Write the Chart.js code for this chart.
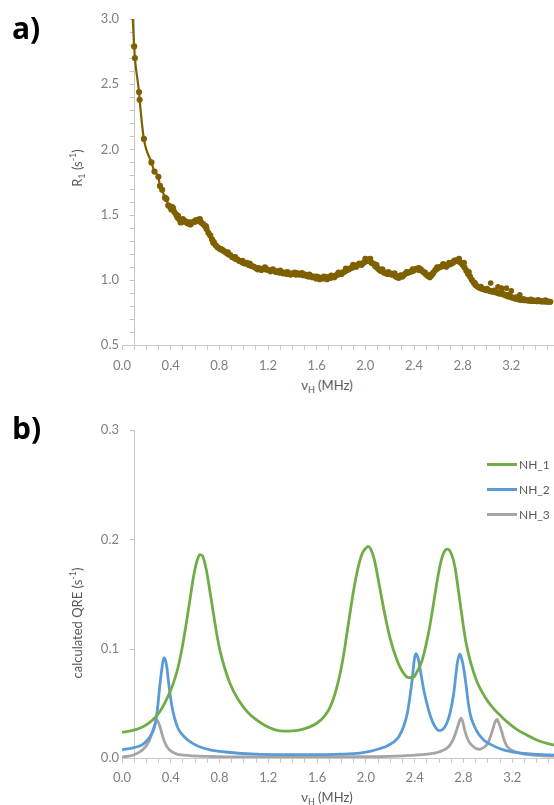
<!DOCTYPE html>
<html><head><meta charset="utf-8">
<script src="https://cdn.jsdelivr.net/npm/chart.js@4.4.1/dist/chart.umd.min.js"></script>
<style>
html,body{margin:0;padding:0;background:#fff;}
body{width:554px;height:805px;overflow:hidden;position:relative;font-family:Lato,'Noto Sans',sans-serif;}
canvas{position:absolute;left:0;}
.lbl{position:absolute;font-family:'Open Sans',sans-serif;font-weight:700;font-size:30px;color:#000;line-height:1;}
.ttl{position:absolute;white-space:nowrap;font-size:13px;color:#595959;line-height:1;transform:translate(-50%,-50%);}
.ttl.rot{transform:translate(-50%,-50%) rotate(-90deg);}
sub,sup{font-size:9px;line-height:0;}
.leg{position:absolute;left:487px;height:14px;display:flex;align-items:center;font-size:12px;color:#595959;transform:translateY(-50%);}
.leg span.ln{display:inline-block;width:30px;height:3px;margin-right:2px;}
</style>
</head><body>
<canvas id="ca" width="568" height="372" style="top:0"></canvas>
<canvas id="cb" width="568" height="405" style="top:400px"></canvas>
<div class="lbl" style="left:12px;top:13px">a)</div>
<div class="lbl" style="left:12px;top:413px">b)</div>
<div class="ttl rot" style="left:77px;top:168px">R<sub>1</sub> (s<sup>-1</sup>)</div>
<div class="ttl" style="left:327px;top:385px">ν<sub>H</sub> (MHz)</div>
<div class="ttl rot" style="left:77px;top:623px">calculated QRE (s<sup>-1</sup>)</div>
<div class="ttl" style="left:327px;top:797px">ν<sub>H</sub> (MHz)</div>
<div id="legend"></div>
<script>
// ---- chart a) measured R1 ----
const r1Freq = [0.080,0.100,0.106,0.140,0.145,0.180,0.242,0.267,0.299,0.312,0.330,0.353,0.365,0.380,0.395,0.405,0.420,0.430,0.445,0.455,0.470,0.482,0.495,0.510,0.520,0.535,0.550,0.563,0.575,0.590,0.605,0.620,0.635,0.650,0.665,0.680,0.695,0.710,0.725,0.740,0.755,0.770,0.785,0.800,0.815,0.830,0.846,0.860,0.875,0.890,0.905,0.920,0.935,0.950,0.965,0.980,0.995,1.010,1.025,1.040,1.055,1.070,1.085,1.100,1.115,1.130,1.145,1.160,1.175,1.190,1.205,1.220,1.235,1.250,1.265,1.280,1.295,1.310,1.325,1.340,1.355,1.370,1.385,1.400,1.415,1.430,1.445,1.460,1.475,1.490,1.505,1.520,1.535,1.550,1.565,1.580,1.595,1.610,1.625,1.640,1.655,1.670,1.685,1.700,1.715,1.730,1.745,1.760,1.775,1.790,1.805,1.820,1.835,1.850,1.865,1.880,1.895,1.910,1.925,1.940,1.955,1.970,1.985,2.000,2.010,2.020,2.035,2.050,2.065,2.080,2.095,2.110,2.125,2.140,2.155,2.170,2.185,2.200,2.215,2.230,2.245,2.260,2.275,2.290,2.305,2.320,2.335,2.350,2.365,2.380,2.395,2.410,2.425,2.440,2.455,2.470,2.485,2.500,2.515,2.530,2.545,2.560,2.575,2.590,2.605,2.620,2.635,2.650,2.665,2.680,2.695,2.710,2.725,2.740,2.755,2.770,2.785,2.800,2.815,2.830,2.845,2.860,2.875,2.890,2.905,2.920,2.935,2.950,2.965,2.980,2.995,3.010,3.025,3.040,3.055,3.070,3.085,3.100,3.115,3.130,3.145,3.160,3.175,3.190,3.205,3.220,3.235,3.250,3.265,3.280,3.295,3.310,3.325,3.340,3.355,3.370,3.385,3.400,3.415,3.430,3.445,3.460,3.475,3.490,3.505,3.520];
const r1Rate = [3.15,2.79,2.70,2.44,2.38,2.08,1.90,1.83,1.79,1.72,1.69,1.63,1.62,1.57,1.56,1.54,1.55,1.52,1.50,1.48,1.465,1.44,1.455,1.445,1.45,1.435,1.44,1.425,1.44,1.445,1.455,1.46,1.45,1.44,1.43,1.415,1.39,1.36,1.34,1.31,1.29,1.265,1.25,1.24,1.235,1.225,1.215,1.205,1.195,1.19,1.175,1.17,1.16,1.155,1.145,1.14,1.13,1.125,1.13,1.115,1.11,1.105,1.10,1.09,1.08,1.085,1.075,1.085,1.095,1.08,1.075,1.065,1.075,1.07,1.06,1.065,1.055,1.06,1.05,1.055,1.045,1.05,1.04,1.05,1.045,1.04,1.05,1.04,1.045,1.035,1.04,1.03,1.025,1.03,1.02,1.025,1.01,1.02,1.005,1.015,1.01,1.02,1.005,1.02,1.015,1.025,1.02,1.035,1.04,1.05,1.045,1.06,1.065,1.075,1.08,1.09,1.095,1.105,1.10,1.115,1.12,1.115,1.13,1.14,1.155,1.145,1.15,1.13,1.125,1.105,1.095,1.08,1.07,1.065,1.055,1.05,1.045,1.05,1.04,1.045,1.03,1.02,1.015,1.03,1.025,1.04,1.05,1.055,1.06,1.065,1.07,1.08,1.085,1.075,1.08,1.065,1.055,1.04,1.03,1.02,1.035,1.055,1.075,1.085,1.095,1.10,1.105,1.11,1.10,1.115,1.12,1.125,1.135,1.15,1.145,1.14,1.13,1.115,1.095,1.07,1.045,1.025,1.00,0.98,0.96,0.95,0.94,0.935,0.93,0.925,0.92,0.92,0.915,0.91,0.91,0.905,0.90,0.895,0.895,0.89,0.885,0.878,0.872,0.87,0.865,0.86,0.856,0.852,0.85,0.846,0.845,0.843,0.845,0.84,0.842,0.838,0.84,0.838,0.836,0.838,0.835,0.834,0.835,0.833,0.832,0.831];
// second, slightly offset pass of the measurement (thickens the band)
const r1Freq2 = [0.41,0.46,0.50,0.55,0.60,0.64,0.69,0.75,0.81,0.87,0.93,0.99,1.05,1.12,1.18,1.24,1.30,1.36,1.42,1.48,1.54,1.60,1.66,1.72,1.78,1.84,1.90,1.95,2.00,2.04,2.09,2.14,2.19,2.24,2.29,2.34,2.39,2.44,2.49,2.54,2.59,2.64,2.69,2.73,2.77,2.81,2.85,2.90,2.95,3.00,3.06,3.12,3.18,3.24,3.30,3.36,3.42,3.48];
const r1Rate2 = [1.56,1.49,1.465,1.43,1.445,1.465,1.41,1.285,1.235,1.21,1.175,1.145,1.125,1.09,1.08,1.08,1.07,1.06,1.055,1.052,1.04,1.025,1.025,1.032,1.055,1.085,1.115,1.125,1.16,1.16,1.115,1.08,1.06,1.05,1.035,1.06,1.08,1.09,1.055,1.04,1.095,1.12,1.13,1.145,1.16,1.13,1.06,0.975,0.945,0.93,0.918,0.902,0.885,0.865,0.852,0.848,0.845,0.842];
// scattered upper points near 3.0-3.3 MHz
const r1ExtraFreq = [3.03,3.09,3.12,3.16,3.20,3.27];
const r1ExtraRate = [0.975,0.946,0.936,0.936,0.915,0.885];

// ---- chart b) calculated QRE ----
const nh1Freq = [0.00,0.08,0.15,0.22,0.28,0.33,0.38,0.42,0.46,0.50,0.53,0.56,0.59,0.62,0.64,0.66,0.68,0.70,0.72,0.74,0.77,0.80,0.84,0.89,0.95,1.03,1.10,1.17,1.25,1.33,1.40,1.47,1.54,1.60,1.65,1.70,1.73,1.76,1.79,1.82,1.85,1.88,1.91,1.94,1.97,2.00,2.02,2.04,2.07,2.10,2.13,2.165,2.20,2.25,2.30,2.35,2.39,2.42,2.46,2.49,2.52,2.55,2.58,2.61,2.64,2.67,2.70,2.73,2.76,2.79,2.82,2.86,2.91,2.97,3.04,3.11,3.18,3.24,3.32,3.40,3.50,3.60];
const nh1QRE  = [0.0235,0.025,0.0275,0.032,0.038,0.046,0.057,0.068,0.083,0.105,0.125,0.147,0.168,0.182,0.186,0.185,0.178,0.167,0.153,0.139,0.118,0.100,0.083,0.067,0.054,0.042,0.035,0.030,0.026,0.0245,0.0248,0.026,0.0285,0.032,0.037,0.045,0.053,0.064,0.078,0.096,0.118,0.140,0.160,0.176,0.187,0.192,0.1935,0.191,0.181,0.164,0.146,0.126,0.109,0.091,0.079,0.0735,0.074,0.079,0.089,0.102,0.118,0.138,0.159,0.177,0.188,0.191,0.187,0.175,0.152,0.128,0.106,0.087,0.070,0.057,0.046,0.038,0.031,0.026,0.021,0.0165,0.013,0.011];
const nh2Freq = [0.00,0.10,0.17,0.22,0.25,0.27,0.29,0.31,0.325,0.337,0.347,0.357,0.368,0.38,0.395,0.41,0.43,0.46,0.51,0.57,0.63,0.72,0.85,1.10,1.50,1.80,1.95,2.05,2.12,2.165,2.22,2.27,2.31,2.34,2.36,2.38,2.395,2.408,2.42,2.435,2.45,2.475,2.50,2.53,2.565,2.60,2.63,2.664,2.69,2.72,2.735,2.75,2.77,2.785,2.80,2.82,2.84,2.86,2.89,2.92,2.97,3.03,3.10,3.19,3.30,3.45,3.60];
const nh2QRE  = [0.0075,0.0095,0.0125,0.018,0.0235,0.030,0.044,0.066,0.080,0.089,0.0915,0.089,0.083,0.071,0.058,0.047,0.037,0.027,0.0195,0.014,0.0105,0.0075,0.0055,0.0035,0.003,0.0035,0.0045,0.0065,0.0088,0.0105,0.014,0.0195,0.029,0.041,0.055,0.072,0.088,0.0955,0.094,0.088,0.078,0.062,0.050,0.038,0.029,0.025,0.026,0.032,0.041,0.059,0.073,0.087,0.095,0.091,0.0835,0.068,0.050,0.038,0.029,0.0226,0.016,0.012,0.0085,0.0058,0.0042,0.003,0.0025];
const nh3Freq = [0.00,0.10,0.17,0.22,0.25,0.27,0.288,0.31,0.334,0.36,0.388,0.45,0.50,0.70,1.00,1.50,2.00,2.30,2.50,2.60,2.68,2.72,2.745,2.765,2.78,2.795,2.81,2.84,2.866,2.90,2.933,2.97,3.00,3.04,3.06,3.076,3.09,3.11,3.135,3.16,3.22,3.30,3.45,3.60];
const nh3QRE  = [0.0008,0.003,0.0075,0.015,0.024,0.031,0.0345,0.029,0.0195,0.012,0.0075,0.0035,0.0027,0.0015,0.001,0.001,0.0012,0.002,0.0035,0.0055,0.0105,0.018,0.026,0.033,0.0365,0.033,0.0256,0.016,0.012,0.009,0.008,0.010,0.0135,0.026,0.033,0.0355,0.032,0.0256,0.016,0.0103,0.006,0.0035,0.002,0.0015];
const seriesNames = ['NH_1','NH_2','NH_3'];
const seriesColors = ['#70ad47','#5b9bd5','#a5a5a5'];

const xTickLabels = ['0.0','0.4','0.8','1.2','1.6','2.0','2.4','2.8','3.2'];
const X_MAX = 3.6;

const FONT = {family: 'Lato', size: 13};
const TICK_COLOR = '#7f7f7f';
const AXIS_COLOR = '#c8c8c8';
const R1_COLOR = '#7f6000';

const pts = (xs, ys) => xs.map((x, i) => ({x: x, y: ys[i]}));

function yAxisAtPlugin(value, tickLen) {
  return {
    id: 'yAxisAt',
    beforeDatasetsDraw(chart) {
      const xs = chart.scales.x, ys = chart.scales.y, ctx = chart.ctx;
      const px = Math.round(xs.getPixelForValue(value)) + 0.5;
      ctx.save();
      ctx.strokeStyle = AXIS_COLOR; ctx.lineWidth = 1;
      ctx.beginPath();
      ctx.moveTo(px, ys.top); ctx.lineTo(px, ys.bottom);
      ys.ticks.forEach(t => {
        const py = Math.round(ys.getPixelForValue(t.value)) + 0.5;
        ctx.moveTo(px - tickLen, py); ctx.lineTo(px, py);
      });
      ctx.stroke(); ctx.restore();
    }
  };
}

function xAxis(height, pad) {
  return {
    type: 'linear', min: 0, max: X_MAX,
    afterFit(s) { s.height = height; },
    grid: {drawOnChartArea: false, drawTicks: true, tickLength: 5, color: AXIS_COLOR},
    border: {display: true, color: AXIS_COLOR},
    ticks: {
      stepSize: 0.1, autoSkip: false, maxRotation: 0, minRotation: 0, padding: pad,
      color: TICK_COLOR, font: FONT,
      callback: v => { const k = Math.round(v * 10); const s = (k / 10).toFixed(1); return xTickLabels.includes(s) ? s : ''; }
    }
  };
}

function yAxis(min, max, labelEvery) {
  return {
    type: 'linear', min: min, max: max,
    afterFit(s) { s.width = 122; },
    grid: {display: false, drawTicks: false},
    border: {display: false},
    ticks: {
      stepSize: 0.1, autoSkip: false, padding: 3, color: TICK_COLOR, font: FONT,
      callback: v => { const k = Math.round(v * 10); return k % labelEvery === 0 ? (k / 10).toFixed(1) : ''; }
    }
  };
}

const common = {
  responsive: false, animation: false, events: [], devicePixelRatio: 1,
  plugins: {legend: {display: false}, tooltip: {enabled: false}}
};

new Chart(document.getElementById('ca'), {
  type: 'scatter',
  data: {datasets: [
    {label: 'R1', data: pts(r1Freq, r1Rate), showLine: true, cubicInterpolationMode: 'monotone',
     borderColor: R1_COLOR, backgroundColor: R1_COLOR, borderWidth: 2.2, pointRadius: 3.1, pointBorderWidth: 0},
    {label: 'R1 pass 2', data: pts(r1Freq2, r1Rate2), showLine: false,
     borderColor: R1_COLOR, backgroundColor: R1_COLOR, pointRadius: 3.1, pointBorderWidth: 0},
    {label: 'R1 extra', data: pts(r1ExtraFreq, r1ExtraRate), showLine: false,
     borderColor: R1_COLOR, backgroundColor: R1_COLOR, pointRadius: 2.8, pointBorderWidth: 0}
  ]},
  options: Object.assign({}, common, {
    layout: {padding: {top: 19, left: 0, right: 0, bottom: 0}},
    scales: {x: xAxis(27, 8), y: yAxis(0.5, 3.0, 5)}
  }),
  plugins: [yAxisAtPlugin(0.1, 5)]
});

const bData = [[nh1Freq, nh1QRE], [nh2Freq, nh2QRE], [nh3Freq, nh3QRE]];
const chartB = new Chart(document.getElementById('cb'), {
  type: 'scatter',
  data: {datasets: bData.map((d, i) => ({
    label: seriesNames[i], data: pts(d[0], d[1]), showLine: true, cubicInterpolationMode: 'monotone',
    borderColor: seriesColors[i], backgroundColor: seriesColors[i], borderWidth: 2.8, pointRadius: 0
  }))},
  options: Object.assign({}, common, {
    layout: {padding: {top: 30, left: 0, right: 0, bottom: 0}},
    scales: {x: xAxis(47, 7), y: yAxis(0, 0.3, 1)}
  }),
  plugins: [yAxisAtPlugin(0.1, 5)]
});

// HTML legend built from the chart's datasets
const leg = document.getElementById('legend');
chartB.data.datasets.forEach((ds, i) => {
  const d = document.createElement('div');
  d.className = 'leg';
  d.style.top = (464 + i * 25) + 'px';
  d.innerHTML = '<span class="ln" style="background:' + ds.borderColor + '"></span>' + ds.label;
  leg.appendChild(d);
});
</script>
</body></html>
